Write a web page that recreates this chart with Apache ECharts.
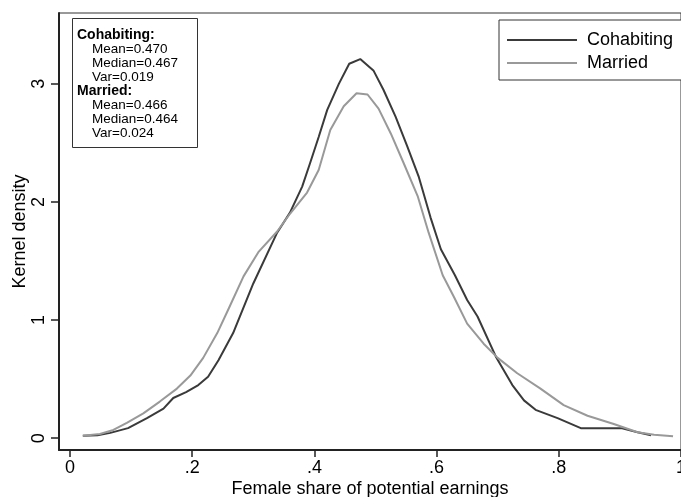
<!DOCTYPE html>
<html>
<head>
<meta charset="utf-8">
<script src="https://cdn.jsdelivr.net/npm/echarts@6/dist/echarts.min.js"></script>
<style>html,body{margin:0;padding:0;background:#fff;}#c{width:681px;height:497px;}</style>
</head>
<body>
<div id="c"></div>
<script>
// ---- data ----
const seriesNames = ['Cohabiting', 'Married'];
const cohabiting = [[0.021,0.02],[0.045,0.025],[0.066,0.045],[0.095,0.085],[0.126,0.17],[0.153,0.25],[0.169,0.34],[0.19,0.39],[0.21,0.45],[0.226,0.52],[0.243,0.66],[0.267,0.89],[0.30,1.31],[0.339,1.74],[0.36,1.91],[0.38,2.13],[0.393,2.33],[0.407,2.55],[0.421,2.78],[0.44,3.0],[0.457,3.17],[0.475,3.21],[0.497,3.11],[0.513,2.95],[0.533,2.72],[0.552,2.47],[0.571,2.21],[0.59,1.87],[0.607,1.6],[0.63,1.38],[0.65,1.17],[0.667,1.03],[0.697,0.69],[0.724,0.45],[0.743,0.32],[0.762,0.24],[0.798,0.17],[0.836,0.085],[0.87,0.085],[0.902,0.085],[0.929,0.05],[0.951,0.025]];
const married = [[0.021,0.02],[0.049,0.035],[0.071,0.07],[0.093,0.13],[0.12,0.21],[0.147,0.31],[0.175,0.42],[0.197,0.53],[0.218,0.68],[0.241,0.89],[0.26,1.1],[0.284,1.37],[0.309,1.58],[0.339,1.75],[0.36,1.9],[0.388,2.08],[0.407,2.27],[0.426,2.61],[0.448,2.81],[0.469,2.92],[0.487,2.91],[0.505,2.79],[0.525,2.58],[0.546,2.33],[0.569,2.05],[0.587,1.74],[0.61,1.38],[0.628,1.2],[0.65,0.97],[0.677,0.8],[0.70,0.68],[0.732,0.55],[0.77,0.42],[0.808,0.28],[0.847,0.19],[0.89,0.12],[0.929,0.05],[0.956,0.03],[0.987,0.017]];
const xTicks = [0, 0.2, 0.4, 0.6, 0.8, 1];
const xTickLabels = ['0', '.2', '.4', '.6', '.8', '1'];
const yTicks = [0, 1, 2, 3];
const statsTitles = ['Cohabiting:', 'Married:'];
const cohabitingStats = ['Mean=0.470', 'Median=0.467', 'Var=0.019'];
const marriedStats = ['Mean=0.466', 'Median=0.464', 'Var=0.024'];
const xTitle = 'Female share of potential earnings';
const yTitle = 'Kernel density';

// ---- chart ----
const FONT = '"Liberation Sans", Arial, Helvetica, sans-serif';
const chart = echarts.init(document.getElementById('c'), null, {renderer: 'canvas'});

const statItems = [[statsTitles[0], true]].concat(cohabitingStats.map(s => [s, false]))
  .concat([[statsTitles[1], true]]).concat(marriedStats.map(s => [s, false]));
const graphics = [
  {type: 'rect', shape: {x: 72.5, y: 18.5, width: 125, height: 129}, style: {fill: '#fff', stroke: '#333', lineWidth: 1}, z: 100}
];
statItems.forEach((item, i) => {
  graphics.push({
    type: 'text', z: 101,
    x: item[1] ? 77 : 92,
    y: 35.5 + i * 14,
    style: {text: item[0], fill: '#000', font: (item[1] ? 'bold 14px ' : '13.5px ') + FONT, verticalAlign: 'middle'}
  });
});

chart.setOption({
  animation: false,
  backgroundColor: '#fff',
  grid: {left: 59, right: 0, top: 13, bottom: 47, show: true, borderColor: '#333', borderWidth: 1, containLabel: false, outerBoundsMode: 'none'},
  xAxis: {
    type: 'value', min: -0.018, max: 1,
    name: xTitle, nameLocation: 'middle', nameGap: 30, nameMoveOverlap: false,
    nameTextStyle: {fontFamily: FONT, fontSize: 18, color: '#000'},
    axisLine: {show: true, onZero: false, lineStyle: {color: '#222', width: 2}},
    axisTick: {show: true, length: 7, customValues: xTicks, lineStyle: {color: '#222', width: 1.5}},
    axisLabel: {customValues: xTicks, formatter: v => xTickLabels[xTicks.findIndex(t => Math.abs(t - v) < 1e-9)], fontFamily: FONT, fontSize: 18, color: '#000', margin: 9},
    splitLine: {show: false}
  },
  yAxis: {
    type: 'value', min: -0.1, max: 3.6,
    name: yTitle, nameLocation: 'middle', nameGap: 30, nameMoveOverlap: false,
    nameTextStyle: {fontFamily: FONT, fontSize: 18, color: '#000'},
    axisLine: {show: true, onZero: false, lineStyle: {color: '#222', width: 2}},
    axisTick: {show: true, length: 8, customValues: yTicks, lineStyle: {color: '#222', width: 1.5}},
    axisLabel: {customValues: yTicks, rotate: 90, fontFamily: FONT, fontSize: 18, color: '#000', margin: 11},
    splitLine: {show: false}
  },
  legend: {
    orient: 'vertical', left: 499, top: 20,
    padding: [11, 20, 8, 8], itemGap: 5, itemWidth: 70, itemHeight: 2,
    borderColor: '#333', borderWidth: 1, backgroundColor: '#fff',
    textStyle: {fontFamily: FONT, fontSize: 18, color: '#000', padding: [0, 0, 0, 5]},
    data: seriesNames.map(n => ({name: n, icon: 'rect'}))
  },
  series: [
    {name: seriesNames[0], type: 'line', data: cohabiting, symbol: 'none', lineStyle: {color: '#3a3a3a', width: 2}, itemStyle: {color: '#3a3a3a'}},
    {name: seriesNames[1], type: 'line', data: married, symbol: 'none', lineStyle: {color: '#999999', width: 2}, itemStyle: {color: '#999999'}}
  ],
  graphic: graphics
});
</script>
</body>
</html>
